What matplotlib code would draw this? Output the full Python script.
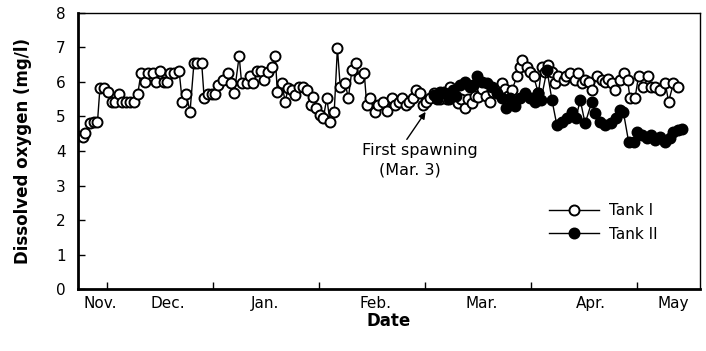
import numpy as np
import matplotlib
matplotlib.use("Agg")
import matplotlib.pyplot as plt

plt.rcParams['font.family'] = ['DejaVu Sans']

# days counted along the x axis (tick every 30 days)
tank1_day = [21.9, 23.1, 23.8, 25.2, 26.3, 27.3, 28.0, 29.2, 30.4, 31.3,
             32.3, 33.5, 34.2, 35.4, 36.5, 37.6, 38.7, 39.6, 40.8, 41.7,
             43.0, 43.9, 45.0, 46.0, 47.1, 47.8, 49.1, 50.4, 51.3, 52.4,
             53.5, 54.6, 55.6, 56.8, 57.5, 58.7, 59.6, 60.6, 61.5, 62.8,
             64.1, 65.0, 66.0, 67.4, 68.1, 69.5, 70.5, 71.4, 72.4, 73.6,
             74.4, 75.7, 76.6, 77.6, 78.2, 79.5, 80.4, 81.3, 82.3, 83.2,
             84.4, 85.6, 86.7, 87.7, 88.4, 89.2, 90.3, 91.2, 92.2, 93.1,
             94.3, 95.2, 96.0, 97.4, 98.3, 99.3, 100.5, 101.4, 102.8, 103.5,
             104.4, 105.7, 106.8, 108.2, 109.3, 110.6, 111.5, 112.5, 113.4, 114.6,
             115.5, 116.5, 117.5, 118.6, 119.4, 120.3, 121.4, 122.4, 123.4, 124.3,
             125.4, 126.2, 127.1, 128.2, 129.4, 130.2, 131.3, 132.2, 133.3, 134.2,
             135.1, 136.1, 137.3, 138.4, 139.3, 140.4, 141.7, 142.7, 143.5, 144.6,
             146.0, 146.9, 147.5, 148.8, 149.7, 150.7, 152.1, 153.0, 154.0, 154.9,
             155.9, 156.8, 157.7, 159.2, 159.9, 161.1, 162.5, 163.4, 164.4, 165.3,
             166.5, 167.2, 168.6, 170.0, 171.0, 171.8, 172.9, 173.8, 175.2, 176.3,
             177.3, 178.0, 179.4, 180.4, 181.8, 183.2, 184.0, 185.1, 186.5, 188.0,
             188.9, 190.3, 191.7]
tank1_do = [4.43, 4.41, 4.53, 4.82, 4.83, 4.83, 5.82, 5.82, 5.72, 5.43,
            5.43, 5.64, 5.43, 5.43, 5.43, 5.43, 5.65, 6.25, 6.01, 6.25,
            6.25, 6.01, 6.33, 6.01, 6.01, 6.25, 6.25, 6.33, 5.43, 5.65,
            5.14, 6.54, 6.54, 6.54, 5.53, 5.65, 5.65, 5.65, 5.91, 6.06,
            6.25, 5.96, 5.67, 6.75, 5.96, 5.96, 6.17, 5.96, 6.33, 6.33,
            6.06, 6.30, 6.44, 6.75, 5.72, 5.96, 5.43, 5.82, 5.77, 5.62,
            5.86, 5.86, 5.77, 5.33, 5.57, 5.24, 5.04, 4.95, 5.53, 4.85,
            5.14, 6.98, 5.86, 5.96, 5.53, 6.35, 6.54, 6.12, 6.25, 5.33,
            5.53, 5.14, 5.33, 5.43, 5.16, 5.53, 5.33, 5.43, 5.53, 5.33,
            5.43, 5.53, 5.77, 5.67, 5.33, 5.43, 5.53, 5.67, 5.60, 5.50,
            5.70, 5.50, 5.86, 5.60, 5.38, 5.50, 5.24, 5.50, 5.38, 5.60,
            5.57, 5.80, 5.60, 5.43, 5.70, 5.80, 5.96, 5.80, 5.60, 5.77,
            6.16, 6.44, 6.65, 6.44, 6.30, 6.16, 5.67, 6.44, 6.30, 6.49,
            6.30, 5.96, 6.16, 6.06, 6.16, 6.25, 6.06, 6.25, 5.96, 6.06,
            6.01, 5.77, 6.16, 6.06, 6.01, 6.10, 5.96, 5.77, 6.06, 6.25,
            6.06, 5.53, 5.53, 6.16, 5.86, 6.16, 5.86, 5.86, 5.77, 5.96,
            5.43, 5.96, 5.86]

tank2_day = [122.4, 123.4, 124.3, 125.7, 126.8, 128.0, 128.8, 130.0, 131.3, 132.8,
             133.6, 134.6, 136.1, 137.5, 138.9, 140.3, 141.7, 142.9, 144.1, 145.5,
             146.9, 148.3, 149.7, 151.1, 152.0, 152.8, 154.5, 155.9, 157.3, 158.7,
             160.1, 161.5, 162.7, 163.9, 165.3, 167.2, 168.2, 169.6, 171.0, 172.6,
             174.1, 175.2, 176.1, 177.6, 179.0, 180.0, 181.3, 182.7, 183.9, 185.1,
             186.5, 188.0, 189.2, 190.3, 191.7, 192.7]
tank2_do = [5.62, 5.50, 5.72, 5.67, 5.50, 5.77, 5.60, 5.91, 6.01, 5.86,
            5.90, 6.16, 6.01, 5.96, 5.86, 5.67, 5.53, 5.24, 5.53, 5.29,
            5.53, 5.67, 5.53, 5.43, 5.68, 5.48, 6.35, 5.48, 4.75, 4.85,
            4.95, 5.14, 4.95, 5.48, 4.80, 5.43, 5.10, 4.85, 4.75, 4.80,
            4.95, 5.19, 5.14, 4.27, 4.27, 4.56, 4.46, 4.37, 4.46, 4.32,
            4.41, 4.27, 4.37, 4.56, 4.61, 4.65]

month_ticks = [30, 60, 90, 120, 150, 180]
month_pos = [28.0, 47.3, 74.7, 105.9, 135.9, 167.0, 190.2]
month_names = ["Nov.", "Dec.", "Jan.", "Feb.", "Mar.", "Apr.", "May"]

fig = plt.figure(figsize=(7.06, 3.51), dpi=100)
ax = fig.add_axes([0.1105, 0.1766, 0.881, 0.7864])

ax.plot(tank1_day, tank1_do, color='black', lw=1.0, marker='o', ms=7.2,
        mfc='white', mec='black', mew=1.4, label='Tank I', zorder=2)
ax.plot(tank2_day, tank2_do, color='black', lw=1.0, marker='o', ms=7.2,
        mfc='black', mec='black', mew=1.4, label='Tank II', zorder=3)

ax.set_xlim(21.8, 197.8)
ax.set_ylim(0, 8)
ax.set_yticks(range(0, 9))
ax.set_xticks(month_ticks)
ax.set_xticklabels([])
ax.set_xticks(month_pos, minor=True)
ax.set_xticklabels(month_names, minor=True, fontsize=11)
ax.tick_params(axis='x', which='minor', length=0, pad=5)
ax.tick_params(axis='x', which='major', direction='in', length=5, width=1)
ax.tick_params(axis='y', direction='in', length=5, width=1, labelsize=11, pad=9)

for s in ['left', 'bottom']:
    ax.spines[s].set_linewidth(2)
for s in ['top', 'right']:
    ax.spines[s].set_linewidth(1)

ax.set_ylabel("Dissolved oxygen (mg/l)", fontsize=12, fontweight='bold', labelpad=17)
ax.set_xlabel("Date", fontsize=12, fontweight='bold', labelpad=1)

ax.annotate("", xy=(120.6, 5.2), xytext=(114.4, 4.27),
            arrowprops=dict(arrowstyle='-|>', color='black', lw=1, mutation_scale=10))
ax.text(118.6, 4.01, "First spawning", ha='center', va='center', fontsize=11.5)
ax.text(115.8, 3.45, "(Mar. 3)", ha='center', va='center', fontsize=11.5)

ax.legend(loc='upper left', bbox_to_anchor=(0.735, 0.36), frameon=False,
          handlelength=3.3, fontsize=11, labelspacing=0.55, handletextpad=0.6)

plt.savefig("out.png", dpi=100)
